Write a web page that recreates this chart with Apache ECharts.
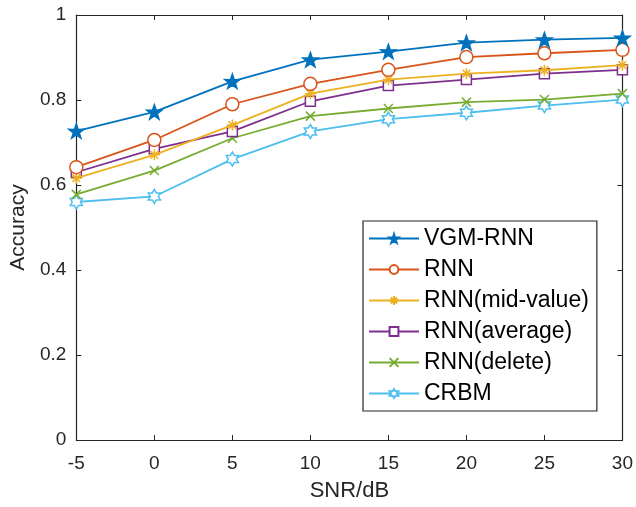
<!DOCTYPE html>
<html><head><meta charset="utf-8">
<script src="https://cdn.jsdelivr.net/npm/echarts@6/dist/echarts.min.js"></script>
<style>html,body{margin:0;padding:0;background:#fff}#c{width:636px;height:507px}</style>
</head><body><div id="c"></div>
<script>
const snr = [-5, 0, 5, 10, 15, 20, 25, 30];
const seriesNames = ['VGM-RNN', 'RNN', 'RNN(mid-value)', 'RNN(average)', 'RNN(delete)', 'CRBM'];
const vgmRnn   = [0.727, 0.772, 0.844, 0.895, 0.914, 0.935, 0.942, 0.946];
const rnn      = [0.642, 0.706, 0.790, 0.838, 0.871, 0.901, 0.910, 0.918];
const rnnMid   = [0.616, 0.671, 0.741, 0.815, 0.848, 0.862, 0.870, 0.882];
const rnnAvg   = [0.630, 0.685, 0.726, 0.797, 0.834, 0.848, 0.862, 0.871];
const rnnDel   = [0.578, 0.634, 0.710, 0.762, 0.780, 0.795, 0.801, 0.815];
const crbm     = [0.560, 0.573, 0.661, 0.726, 0.755, 0.770, 0.787, 0.801];
const yTicks = [0, 0.2, 0.4, 0.6, 0.8, 1];

const colors = ['#0072BD', '#D95319', '#EDB120', '#7E2F8E', '#77AC30', '#4DBEEE'];
const starPath = 'path://M50,0L61.8,35.1L97.6,34.5L68.8,56.9L79.4,90.5L50,70L20.6,90.5L31.2,56.9L2.4,34.5L38.2,35.1Z';
const hexPath = 'path://M50,0L64.43,25L93.3,25L78.87,50L93.3,75L64.43,75L50,100L35.57,75L6.7,75L21.13,50L6.7,25L35.57,25Z';
const astPath = 'path://M50,0L50,100M0,50L100,50M15,15L85,85M85,15L15,85';
const xPath = 'path://M0,0L100,100M100,0L0,100';

const allData = [vgmRnn, rnn, rnnMid, rnnAvg, rnnDel, crbm];
const symbols = [starPath, 'circle', astPath, 'rect', xPath, hexPath];
const sizes = [15, 13, 11, 10, 9, 14];
const fills = [colors[0], '#fff', 'transparent', '#fff', 'transparent', '#fff'];

const series = allData.map((d, i) => ({
  name: seriesNames[i],
  type: 'line',
  data: d.map((v, j) => [snr[j], v]),
  symbol: symbols[i],
  symbolSize: sizes[i],
  symbolKeepAspect: true,
  showAllSymbol: true,
  lineStyle: { color: colors[i], width: 1.8 },
  itemStyle: { color: fills[i], borderColor: colors[i], borderWidth: 1.5 },
  emphasis: { disabled: true },
  z: 10 - i
}));

const fontFam = 'Liberation Sans, Arial, sans-serif';
const axisCol = '#262626';
const tickCfg = { show: true, inside: true, length: 5, lineStyle: { color: axisCol } };
const lineCfg = { show: true, onZero: false, lineStyle: { color: axisCol, width: 1.2 } };

const chart = echarts.init(document.getElementById('c'), null, { renderer: 'canvas' });
chart.setOption({
  animation: false,
  color: colors,
  grid: { left: 73, right: 13, top: 15, bottom: 64, containLabel: false },
  legend: {
    orient: 'vertical',
    left: 363, top: 221,
    padding: [6, 8, 6, 5],
    backgroundColor: '#fff',
    borderColor: '#262626', borderWidth: 1.2,
    itemWidth: 50, itemHeight: 11, itemGap: 8,
    textStyle: { fontSize: 23, lineHeight: 23, color: '#000', fontFamily: fontFam },
    data: seriesNames
  },
  xAxis: [{
    type: 'value', min: -5, max: 30, interval: 5,
    name: 'SNR/dB', nameLocation: 'middle', nameGap: 40,
    nameTextStyle: { fontSize: 22, color: axisCol, fontFamily: fontFam },
    axisLine: lineCfg,
    axisTick: tickCfg,
    axisLabel: { fontSize: 19, color: axisCol, fontFamily: fontFam, margin: 14 },
    splitLine: { show: false }
  }, {
    type: 'value', min: -5, max: 30, interval: 5, position: 'top',
    axisLine: lineCfg, axisTick: tickCfg,
    axisLabel: { show: false }, splitLine: { show: false }
  }],
  yAxis: [{
    type: 'value', min: 0, max: 1, interval: 0.2,
    name: 'Accuracy', nameLocation: 'middle', nameGap: 38,
    nameTextStyle: { fontSize: 21, color: axisCol, fontFamily: fontFam },
    axisLine: lineCfg,
    axisTick: tickCfg,
    axisLabel: { fontSize: 19, color: axisCol, fontFamily: fontFam, margin: 10,
      formatter: v => String(yTicks.find(t => Math.abs(t - v) < 1e-9) ?? v) },
    splitLine: { show: false }
  }, {
    type: 'value', min: 0, max: 1, interval: 0.2, position: 'right',
    axisLine: lineCfg, axisTick: tickCfg,
    axisLabel: { show: false }, splitLine: { show: false }
  }],
  series: series
});
</script></body></html>
